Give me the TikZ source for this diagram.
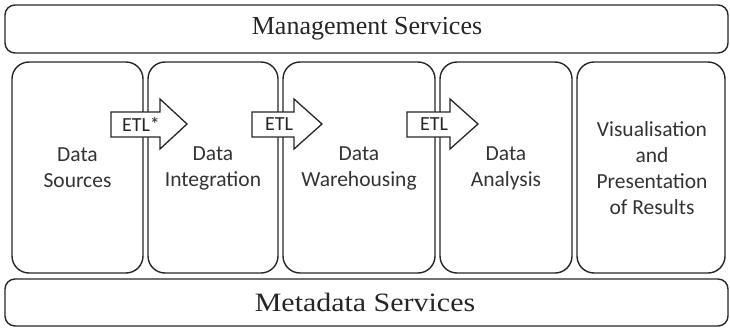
\documentclass[tikz,border=0pt]{standalone}
\usepackage{fontspec}
\setmainfont{Liberation Serif}
\newfontfamily\calib{Carlito}
\begin{document}
\begin{tikzpicture}[x=1pt,y=-1pt,
  line width=1.4pt,
  frame/.style={draw=black!85, rounded corners=10pt},
  stage/.style={draw=black!85, rounded corners=17pt},
  flow/.style={draw=black!85, fill=white, line width=1.3pt, line join=miter},
  svc/.style={text=black!85},
  lbl/.style={font=\calib\fontsize{21.5}{26}\selectfont, align=center, text=black!80},
  etl/.style={font=\calib\fontsize{20}{24}\selectfont, text=black!85, inner sep=0pt}]
\useasboundingbox (0,0) rectangle (730,329);

% service bands
\draw[frame] (5,5) rectangle (728,53);
\node[svc, font=\fontsize{26}{30}\selectfont] (mgmt) at (367,29) {Management Services};
\draw[frame] (5,279) rectangle (728,326);
\node[svc, font=\fontsize{26.5}{30}\selectfont, xscale=1.13] (meta) at (365,302) {Metadata Services};

% pipeline stages
\draw[stage] (12,62) rectangle (143,273);
\draw[stage] (148,62) rectangle (278,273);
\draw[stage] (283,62) rectangle (435,273);
\draw[stage] (440,62) rectangle (572,273);
\draw[stage] (577,62) rectangle (725,273);

\node[lbl] (src) at (77.5,168) {Data\\Sources};
\node[lbl] (int) at (213,168) {Data\\Integration};
\node[lbl] (wh)  at (359,168) {Data\\Warehousing};
\node[lbl] (ana) at (506,168) {Data\\Analysis};
\node[lbl] (vis) at (652,168) {Visualisation\\and\\Presentation\\of Results};

% ETL block arrows between stages
\draw[flow] (111,112) -- (160,112) -- (160,99) -- (187,124) -- (160,149) -- (160,137) -- (111,137) -- cycle;
\draw[flow] (252,112) -- (294,112) -- (294,99) -- (322,124) -- (294,149) -- (294,137) -- (252,137) -- cycle;
\draw[flow] (407,112) -- (450,112) -- (450,99) -- (478,124) -- (450,149) -- (450,137) -- (407,137) -- cycle;

\node[etl] (e1) at (141,124) {ETL*};
\node[etl] (e2) at (279,124) {ETL};
\node[etl] (e3) at (434,124) {ETL};
\end{tikzpicture}
\end{document}
